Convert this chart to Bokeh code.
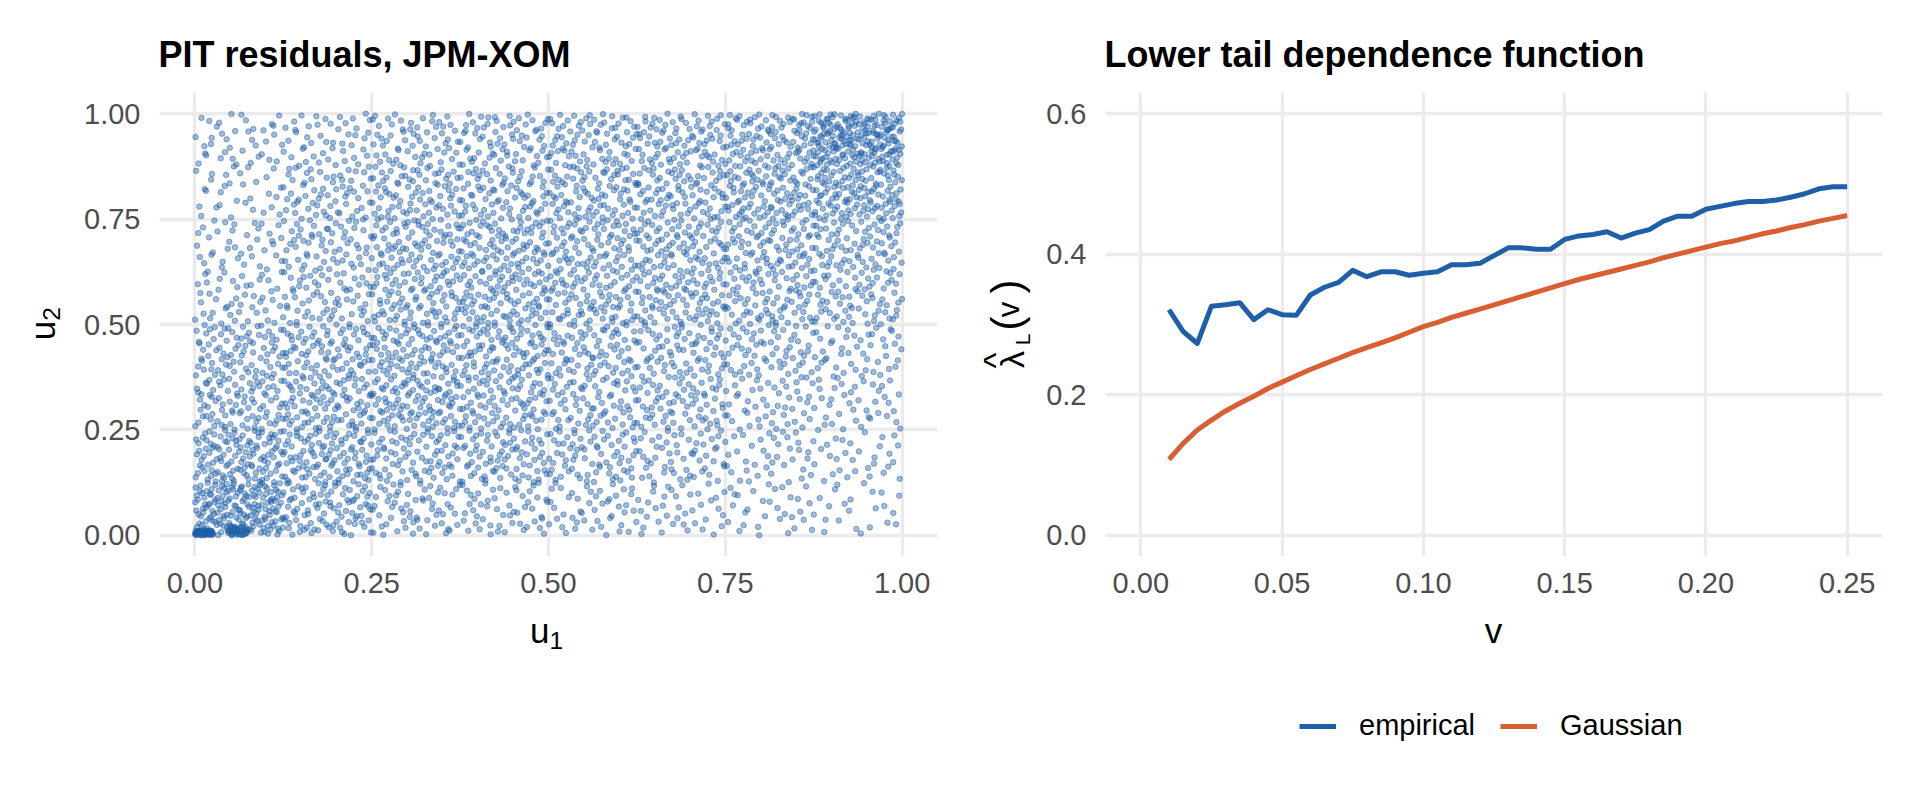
import math
import numpy as np
from bokeh.plotting import figure
from bokeh.layouts import row, column
from bokeh.models import (Label, Legend, LegendItem, FixedTicker, PrintfTickFormatter,
                          ColumnDataSource, Range1d)
from bokeh.embed import file_html
from bokeh.resources import INLINE

BLUE = "#1F5FA8"
ORANGE = "#D95F33"
GRID = "#EBEBEB"
TICK = "#4D4D4D"
FONT = "Liberation Sans"

# ---------------- data ----------------
# PIT scatter: relative point density on an 8x8 grid
# (rows: u2 from 0 upward, columns: u1 from 0 rightward)
cell_edges = [0.0, 0.125, 0.25, 0.375, 0.5, 0.625, 0.75, 0.875, 1.0]
density_rows = [
    [2.2, 1.2, 0.8, 0.7, 0.6, 0.5, 0.4, 0.3],
    [1.5, 1.3, 1.0, 1.0, 0.9, 0.7, 0.5, 0.4],
    [1.1, 1.2, 1.3, 1.1, 0.9, 0.9, 0.6, 0.5],
    [1.0, 1.1, 1.2, 1.2, 1.0, 0.9, 0.8, 0.6],
    [0.6, 0.8, 1.1, 1.2, 1.1, 1.1, 1.0, 0.9],
    [0.5, 0.8, 1.1, 1.2, 1.1, 1.1, 1.1, 1.0],
    [0.4, 0.8, 1.0, 1.0, 1.1, 1.1, 1.3, 1.6],
    [0.5, 0.6, 0.8, 0.9, 1.0, 1.1, 1.3, 2.2],
]
n_points = 4800
# dense clumps seen in the corners: (u1 from, u1 to, u2 from, u2 to, count)
clumps = [
    (0.000, 0.025, 0.000, 0.012, 50),
    (0.045, 0.075, 0.000, 0.022, 30),
    (0.850, 1.000, 0.900, 1.000, 35),
]

# lower tail dependence function
v_values = [0.010, 0.015, 0.020, 0.025, 0.030, 0.035, 0.040, 0.045, 0.050, 0.055,
            0.060, 0.065, 0.070, 0.075, 0.080, 0.085, 0.090, 0.095, 0.100, 0.105,
            0.110, 0.115, 0.120, 0.125, 0.130, 0.135, 0.140, 0.145, 0.150, 0.155,
            0.160, 0.165, 0.170, 0.175, 0.180, 0.185, 0.190, 0.195, 0.200, 0.205,
            0.210, 0.215, 0.220, 0.225, 0.230, 0.235, 0.240, 0.245, 0.250]
empirical = [0.321, 0.290, 0.273, 0.326, 0.328, 0.331, 0.307, 0.321, 0.314, 0.313,
             0.342, 0.353, 0.360, 0.377, 0.368, 0.375, 0.375, 0.370, 0.373, 0.375,
             0.385, 0.385, 0.387, 0.398, 0.409, 0.409, 0.407, 0.407, 0.421, 0.426,
             0.428, 0.432, 0.423, 0.430, 0.435, 0.447, 0.454, 0.454, 0.464, 0.468,
             0.472, 0.475, 0.475, 0.477, 0.481, 0.486, 0.493, 0.496, 0.496]
gaussian = [0.108, 0.131, 0.150, 0.164, 0.177, 0.188, 0.198, 0.209, 0.218, 0.227,
            0.236, 0.244, 0.252, 0.260, 0.267, 0.274, 0.281, 0.289, 0.297, 0.303,
            0.310, 0.316, 0.322, 0.328, 0.334, 0.340, 0.346, 0.352, 0.358, 0.364,
            0.369, 0.374, 0.379, 0.384, 0.389, 0.395, 0.400, 0.405, 0.410, 0.415,
            0.419, 0.424, 0.429, 0.433, 0.438, 0.442, 0.447, 0.451, 0.455]
series_names = ["empirical", "Gaussian"]

u_ticks = [0.0, 0.25, 0.5, 0.75, 1.0]
v_ticks = [0.0, 0.05, 0.10, 0.15, 0.20, 0.25]
lam_ticks = [0.0, 0.2, 0.4, 0.6]


# deterministic (leaped) low-discrepancy placement of points inside each cell
def halton(i, b):
    f, r = 1.0, 0.0
    while i > 0:
        f /= b
        r += f * (i % b)
        i //= b
    return r


LEAP = 17
total_density = sum(sum(r) for r in density_rows)
u1, u2 = [], []
idx = 1
for ri, rowvals in enumerate(density_rows):
    for ci, d in enumerate(rowvals):
        n = int(round(n_points * d / total_density))
        x0, x1 = cell_edges[ci], cell_edges[ci + 1]
        y0, y1 = cell_edges[ri], cell_edges[ri + 1]
        for _ in range(n):
            u1.append(x0 + halton(idx * LEAP, 2) * (x1 - x0))
            u2.append(y0 + halton(idx * LEAP, 3) * (y1 - y0))
            idx += 1
for (a0, a1, b0, b1, n) in clumps:
    for _ in range(n):
        u1.append(a0 + halton(idx * LEAP, 2) * (a1 - a0))
        u2.append(b0 + halton(idx * LEAP, 3) * (b1 - b0))
        idx += 1

# ---------------- layout (page pixels) ----------------
PAGE_W, PAGE_H = 1920, 806
FRAME_TOP = 92
FRAME_H = 464
TOP_H = 80                      # title strip
BORDER_TOP = FRAME_TOP - TOP_H
BORDER_BOT = 51                 # room for the x tick labels
MID_H = BORDER_TOP + FRAME_H + BORDER_BOT
BOT_H = PAGE_H - TOP_H - MID_H
X_U2 = 70                       # strip holding the rotated u2 title (x 0..70)
X_COL1 = 870                    # left plot column (x 70..940)
X_LAM = 102                     # strip holding the rotated lambda title (x 940..1042)
X_COL2 = PAGE_W - X_U2 - X_COL1 - X_LAM  # right column (x 1042..1920)
C1_LEFT = X_U2
LAM_LEFT = X_U2 + X_COL1
C2_LEFT = LAM_LEFT + X_LAM
DESC = 0.27                     # Label's anchor sits below the alphabetic baseline by ~this many em


def style(p, xt, yt, xfmt, yfmt):
    p.outline_line_color = None
    p.background_fill_color = "white"
    p.border_fill_color = "white"
    for ax in (p.xaxis[0], p.yaxis[0]):
        ax.axis_line_color = None
        ax.major_tick_line_color = None
        ax.minor_tick_line_color = None
        ax.major_tick_out = 0
        ax.major_tick_in = 0
        ax.minor_tick_out = 0
        ax.major_label_text_font = FONT
        ax.major_label_text_font_size = "29px"
        ax.major_label_text_color = TICK
    p.xaxis[0].ticker = FixedTicker(ticks=xt)
    p.yaxis[0].ticker = FixedTicker(ticks=yt)
    p.xaxis[0].formatter = PrintfTickFormatter(format=xfmt)
    p.yaxis[0].formatter = PrintfTickFormatter(format=yfmt)
    p.xaxis[0].major_label_standoff = 16
    p.yaxis[0].major_label_standoff = 19
    p.xgrid.ticker = FixedTicker(ticks=xt)
    p.ygrid.ticker = FixedTicker(ticks=yt)
    for g in (p.xgrid[0], p.ygrid[0]):
        g.grid_line_color = GRID
        g.grid_line_width = 3.3
        g.minor_grid_line_color = None


def strip(x0, y0, w, h):
    """A bare figure whose data coordinates are page pixels (y downward)."""
    f = figure(width=w, height=h, output_backend="svg", toolbar_location=None,
               title=None, x_axis_type=None, y_axis_type=None, frame_align=False,
               x_range=Range1d(x0, x0 + w), y_range=Range1d(y0 + h, y0),
               min_border=0, min_border_left=0, min_border_right=0,
               min_border_top=0, min_border_bottom=0)
    f.outline_line_color = None
    f.grid.visible = False
    f.background_fill_color = "white"
    f.border_fill_color = "white"
    return f


def txt(f, x, y, text, size, bold=False, align="left", rotated=False, color="black"):
    # (x, y): page position of the alphabetic baseline
    if rotated:
        x, angle = x - DESC * size, math.pi / 2
    else:
        y, angle = y - DESC * size, 0.0
    f.add_layout(Label(x=x, y=y, text=text, text_font=FONT, text_font_size=f"{size}px",
                       text_font_style="bold" if bold else "normal", text_color=color,
                       text_align=align, text_baseline="alphabetic", angle=angle))


# ---------------- left: scatter ----------------
L1, FW1 = 159 - C1_LEFT, 778
p1 = figure(width=X_COL1, height=MID_H, output_backend="svg", toolbar_location=None,
            title=None, frame_align=False,
            x_range=Range1d(-0.05, 1.05), y_range=Range1d(-0.05, 1.05),
            min_border_left=L1, min_border_right=X_COL1 - L1 - FW1,
            min_border_top=BORDER_TOP, min_border_bottom=BORDER_BOT)
style(p1, u_ticks, u_ticks, "%.2f", "%.2f")
p1.scatter(x=u1, y=u2, size=5.5, marker="circle", fill_color=BLUE, line_color=BLUE,
           fill_alpha=0.42, line_alpha=0.6, line_width=0.8)

t1 = strip(C1_LEFT, 0, X_COL1, TOP_H)
txt(t1, 158, 64, "PIT residuals, JPM-XOM", 36, bold=True)
b1 = strip(C1_LEFT, TOP_H + MID_H, X_COL1, BOT_H)
txt(b1, 529.5, 639, "u", 35)
txt(b1, 549, 647, "1", 24.5)
s_u2 = strip(0, 0, X_U2, PAGE_H)
txt(s_u2, 51.7, 330, "u", 35, align="center", rotated=True)
txt(s_u2, 58, 313.5, "2", 24.5, align="center", rotated=True)

# ---------------- right: tail dependence ----------------
L2, FW2 = 1105 - C2_LEFT, 777
p2 = figure(width=X_COL2, height=MID_H, output_backend="svg", toolbar_location=None,
            title=None, frame_align=False,
            x_range=Range1d(-0.0125, 0.2625), y_range=Range1d(-0.03, 0.63),
            min_border_left=L2, min_border_right=X_COL2 - L2 - FW2,
            min_border_top=BORDER_TOP, min_border_bottom=BORDER_BOT)
style(p2, v_ticks, lam_ticks, "%.2f", "%.1f")
src = ColumnDataSource(dict(v=v_values, emp=empirical, gau=gaussian))
p2.line("v", "emp", source=src, line_color=BLUE, line_width=5, line_join="round")
p2.line("v", "gau", source=src, line_color=ORANGE, line_width=5, line_join="round")

t2 = strip(C2_LEFT, 0, X_COL2, TOP_H)
txt(t2, 1104, 64, "Lower tail dependence function", 36, bold=True)

s_lam = strip(LAM_LEFT, 0, X_LAM, PAGE_H)
txt(s_lam, 1021, 359, "λ", 34, align="center", rotated=True)
txt(s_lam, 1004, 360, "^", 34, align="center", rotated=True)
txt(s_lam, 1028, 339, "L", 21, align="center", rotated=True)
txt(s_lam, 1017, 323, "(", 42, align="center", rotated=True)
txt(s_lam, 1016, 309, "v", 31, align="center", rotated=True)
txt(s_lam, 1017, 286, ")", 42, align="center", rotated=True)

b2 = strip(C2_LEFT, TOP_H + MID_H, X_COL2, BOT_H)
txt(b2, 1493, 639, "v", 35, align="center")
# legend keys: renderers without visible data, only used for the legend swatches
nan2 = np.array([np.nan, np.nan])
k_emp = b2.line(x=nan2, y=nan2, line_color=BLUE, line_width=5)
k_gau = b2.line(x=nan2, y=nan2, line_color=ORANGE, line_width=5)
LEG_H = 30
legend = Legend(items=[LegendItem(label=series_names[0], renderers=[k_emp]),
                       LegendItem(label=series_names[1], renderers=[k_gau])],
                orientation="horizontal",
                location=(1299 - C2_LEFT, PAGE_H - (727 + LEG_H / 2)),
                glyph_width=37, glyph_height=LEG_H, label_height=LEG_H, label_standoff=23,
                spacing=25, padding=0, margin=0, border_line_color=None,
                background_fill_alpha=0, label_text_font=FONT,
                label_text_font_size="29px", label_text_color="black")
b2.add_layout(legend, "center")

layout = row(s_u2, column(t1, p1, b1), s_lam, column(t2, p2, b2))
open("out.html", "w").write(file_html(layout, INLINE))
